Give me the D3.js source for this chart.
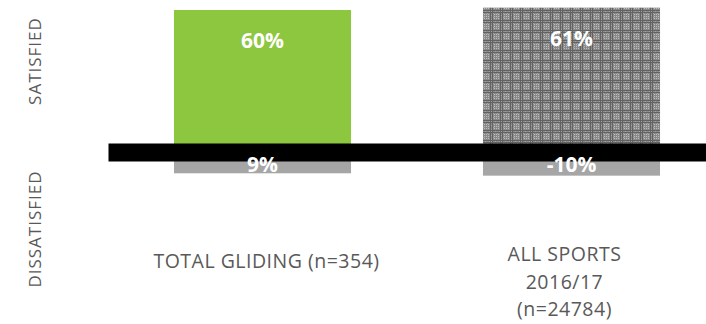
<!DOCTYPE html>
<html>
<head>
<meta charset="utf-8">
<script src="https://cdn.jsdelivr.net/npm/d3@7"></script>
<style>
  html, body { margin: 0; padding: 0; background: #fff; }
  svg { display: block; }
</style>
</head>
<body>
<svg id="chart" width="706" height="324"></svg>
<script>
// Survey groups and their satisfaction shares (percent)
const categories = ["TOTAL GLIDING (n=354)", "ALL SPORTS 2016/17 (n=24784)"];
const categoryLines = [["TOTAL GLIDING (n=354)"], ["ALL SPORTS", "2016/17", "(n=24784)"]];
const satisfied = [60, 61];
const dissatisfied = [-9, -10];
const satisfiedLabels = ["60%", "61%"];
const dissatisfiedLabels = ["9%", "-10%"];
const sideLabels = ["SATISFIED", "DISSATISFIED"];

const svg = d3.select("#chart");
const font = "'Open Sans', 'Noto Sans', sans-serif";
const textGrey = "#595959";

// Plaid fill for the all-sports bar
const defs = svg.append("defs");
const pat = defs.append("pattern")
  .attr("id", "plaid")
  .attr("patternUnits", "userSpaceOnUse")
  .attr("width", 10).attr("height", 10);
pat.append("rect").attr("width", 10).attr("height", 10).attr("fill", "#8a8a8a");
// light checker cells
for (let i = 0; i < 10; i += 2) {
  for (let j = 0; j < 10; j += 2) {
    if (i >= 4 && j >= 4) pat.append("rect").attr("x", i).attr("y", j).attr("width", 1).attr("height", 1).attr("fill", "#bdbdbd");
    else if ((i + j) % 4 === 0) pat.append("rect").attr("x", i + 1).attr("y", j + 1).attr("width", 1).attr("height", 1).attr("fill", "#a4a4a4");
  }
}
// darker double stripes
pat.append("rect").attr("x", 0).attr("y", 0).attr("width", 1).attr("height", 10).attr("fill", "#626262");
pat.append("rect").attr("x", 2).attr("y", 0).attr("width", 1).attr("height", 10).attr("fill", "#626262");
pat.append("rect").attr("x", 0).attr("y", 0).attr("width", 10).attr("height", 1).attr("fill", "#626262");
pat.append("rect").attr("x", 0).attr("y", 2).attr("width", 10).attr("height", 1).attr("fill", "#626262");

const x = d3.scaleBand()
  .domain(categories)
  .range([108, 726])
  .paddingInner(0.427)
  .paddingOuter(0.2135);

const y = d3.scaleLinear()
  .domain([0, 60])
  .range([152, 10]);

const satFill = ["#8dc63f", "url(#plaid)"];

// Satisfied bars (upward)
svg.append("g").selectAll("rect")
  .data(satisfied)
  .join("rect")
  .attr("x", (d, i) => x(categories[i]))
  .attr("width", x.bandwidth())
  .attr("y", d => y(d))
  .attr("height", d => y(0) - y(d))
  .attr("fill", (d, i) => satFill[i]);

// Dissatisfied bars (downward)
svg.append("g").selectAll("rect")
  .data(dissatisfied)
  .join("rect")
  .attr("x", (d, i) => x(categories[i]))
  .attr("width", x.bandwidth())
  .attr("y", y(0))
  .attr("height", d => y(d) - y(0))
  .attr("fill", "#a6a6a6");

// Heavy zero axis
const axis = svg.append("g")
  .attr("transform", `translate(0,${y(0)})`)
  .call(d3.axisBottom(x).tickSize(0).tickFormat(""));
axis.select(".domain").attr("stroke", "#000").attr("stroke-width", 18);

// Value labels
svg.append("g").selectAll("text")
  .data(satisfied)
  .join("text")
  .attr("x", (d, i) => x(categories[i]) + x.bandwidth() / 2)
  .attr("y", d => y(d) + 38)
  .attr("text-anchor", "middle")
  .attr("font-family", font)
  .attr("font-weight", "bold")
  .attr("font-size", 21)
  .attr("fill", "#fff")
  .text((d, i) => satisfiedLabels[i]);

svg.append("g").selectAll("text")
  .data(dissatisfied)
  .join("text")
  .attr("x", (d, i) => x(categories[i]) + x.bandwidth() / 2)
  .attr("y", d => y(0) + 20)
  .attr("text-anchor", "middle")
  .attr("font-family", font)
  .attr("font-weight", "bold")
  .attr("font-size", 21)
  .attr("fill", "#fff")
  .text((d, i) => dissatisfiedLabels[i]);

// Category labels
const catG = svg.append("g");
const labelShift = [4, -7];
categoryLines.forEach((lines, i) => {
  const cx = x(categories[i]) + x.bandwidth() / 2 + labelShift[i];
  const t = catG.append("text")
    .attr("text-anchor", "middle")
    .attr("font-family", font)
    .attr("font-size", 19.5)
    .attr("letter-spacing", 0.5)
    .attr("fill", textGrey);
  const y0 = lines.length === 1 ? 268 : 261;
  lines.forEach((ln, k) => {
    t.append("tspan").attr("x", cx).attr("y", y0 + k * 27.5).text(ln);
  });
});

// Side labels
const sideY = [61, 229];
sideLabels.forEach((s, i) => {
  svg.append("text")
    .attr("transform", `translate(41,${sideY[i]}) rotate(-90)`)
    .attr("text-anchor", "middle")
    .attr("font-family", font)
    .attr("font-size", 17)
    .attr("letter-spacing", 1)
    .attr("fill", textGrey)
    .text(s);
});
</script>
</body>
</html>
